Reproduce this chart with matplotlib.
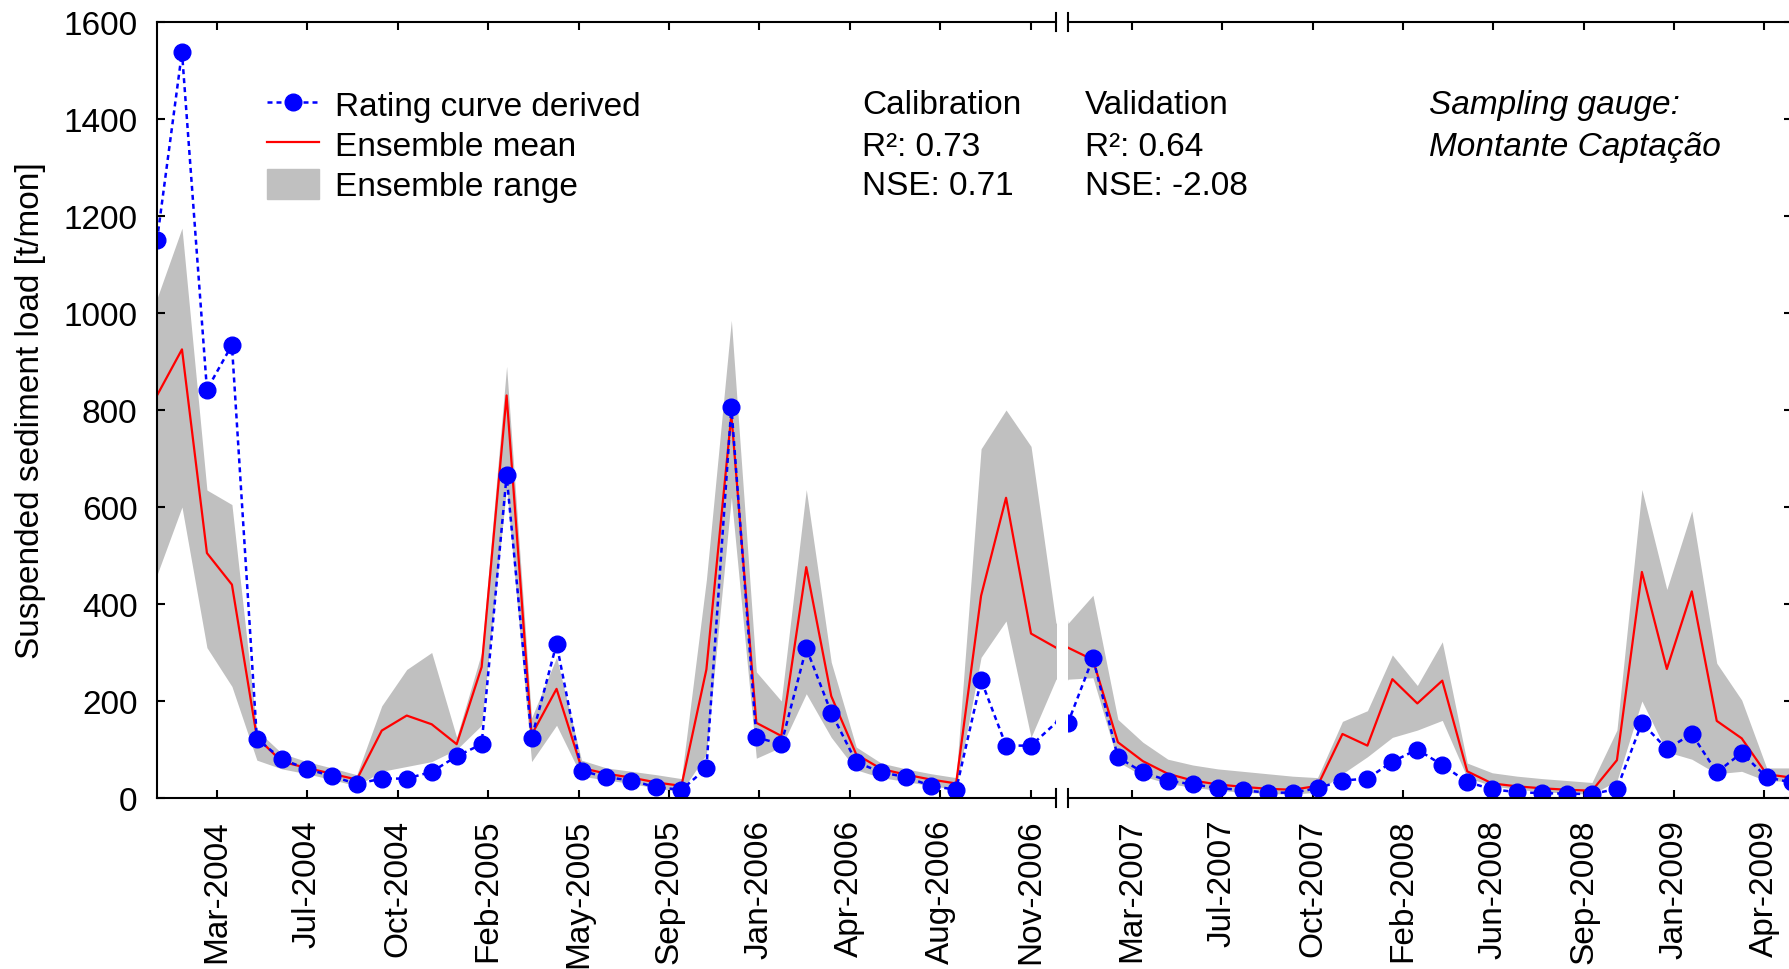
import numpy as np
import matplotlib
matplotlib.use("Agg")
import matplotlib.pyplot as plt
from matplotlib.lines import Line2D
from matplotlib.patches import Patch

plt.rcParams['font.family'] = ['Liberation Sans', 'DejaVu Sans']

# monthly suspended sediment load [t/mon], Jan-2004 .. Jun-2009
rating = [1150, 1538, 842, 934, 122, 80, 60, 45, 29, 40, 40, 54, 86, 111, 665, 123,
          318, 56, 43, 36, 22, 17, 61, 806, 125, 111, 309, 176, 74, 53, 43, 25,
          17, 243, 108, 108, 155, 289, 84, 53, 36, 28, 21, 16, 11, 11, 20, 36,
          40, 75, 100, 68, 33, 18, 12, 10, 9, 8, 19, 155, 101, 132, 53, 93, 43, 32]
ens_mean = [830, 925, 505, 440, 125, 75, 62, 50, 38, 139, 170, 152, 111, 270, 830, 130,
            225, 62, 50, 42, 32, 25, 265, 790, 155, 128, 476, 210, 90, 60, 48, 38,
            30, 417, 619, 339, 310, 285, 115, 76, 50, 36, 28, 23, 19, 17, 25, 132,
            108, 245, 195, 242, 55, 30, 24, 20, 17, 15, 78, 466, 266, 426, 159, 123, 49, 42]
ens_max = [1030, 1175, 635, 605, 140, 92, 75, 62, 48, 190, 265, 300, 125, 300, 890, 165,
           290, 78, 62, 55, 48, 40, 450, 985, 260, 200, 636, 280, 105, 72, 60, 50,
           42, 720, 800, 725, 360, 418, 162, 115, 80, 68, 60, 55, 50, 45, 42, 158,
           180, 295, 232, 322, 72, 52, 45, 40, 36, 32, 140, 636, 430, 592, 278, 202, 62, 62]
ens_min = [460, 600, 310, 230, 78, 60, 50, 38, 25, 55, 65, 75, 100, 150, 640, 75,
           150, 45, 37, 30, 20, 13, 90, 620, 82, 105, 215, 125, 58, 42, 34, 25,
           18, 290, 365, 125, 245, 248, 75, 45, 30, 22, 16, 12, 9, 8, 12, 50,
           85, 125, 140, 160, 42, 25, 18, 13, 10, 8, 35, 200, 95, 80, 50, 55, 35, 35]

calib_ticks = ['Mar-2004', 'Jul-2004', 'Oct-2004', 'Feb-2005', 'May-2005',
               'Sep-2005', 'Jan-2006', 'Apr-2006', 'Aug-2006', 'Nov-2006']
valid_ticks = ['Mar-2007', 'Jul-2007', 'Oct-2007', 'Feb-2008', 'Jun-2008',
               'Sep-2008', 'Jan-2009', 'Apr-2009']

calib_stats = ['Calibration', 'R\u00b2: 0.73', 'NSE: 0.71']
valid_stats = ['Validation', 'R\u00b2: 0.64', 'NSE: -2.08']
gauge_note = ['Sampling gauge:', 'Montante Captação']

n_calib = 36          # calibration period = first 36 months
tick_step = 3.62      # tick spacing in months

W, H = 1789, 970
fig = plt.figure(figsize=(W / 100, H / 100), dpi=100)


def rect(x0, x1, top=23, bottom=799):
    # axes rectangle given in pixel columns/rows
    return [x0 / W, 1 - bottom / H, (x1 - x0) / W, (bottom - top) / H]


ax1 = fig.add_axes(rect(157, 1056))
ax2 = fig.add_axes(rect(1068, 1791.6))

months = np.arange(len(rating))
blue_style = dict(color='blue', ls=(0, (2, 1.6)), lw=1.8, marker='o', ms=12)

for ax in (ax1, ax2):
    ax.fill_between(months, ens_min, ens_max, color='#c0c0c0', lw=0)
    ax.plot(months, ens_mean, color='red', lw=1.6)
    ax.set_ylim(0, 1600)
    ax.set_yticks(np.arange(0, 1601, 200))
    for s in ax.spines.values():
        s.set_linewidth(1.5)

ax1.plot(months, rating, markevery=list(range(n_calib)), **blue_style)
ax2.plot(months, rating, **blue_style)

ax1.set_xlim(0, n_calib)
ax2.set_xlim(n_calib, len(rating) - 1)

ax1.set_xticks(2.4 + tick_step * np.arange(len(calib_ticks)))
ax1.set_xticklabels(calib_ticks, rotation=90)
ax2.set_xticks(38.56 + tick_step * np.arange(len(valid_ticks)))
ax2.set_xticklabels(valid_ticks, rotation=90)

ax1.tick_params(direction='in', length=6, width=1.5, top=True, right=False,
                labelsize=24, pad=14)
ax2.tick_params(direction='in', length=6, width=1.5, top=True, right=True,
                left=False, labelleft=False, labelsize=24, pad=14)
ax1.tick_params(axis='x', pad=15)
ax2.tick_params(axis='x', pad=15)

ax1.spines['right'].set_visible(False)
ax2.spines['left'].set_visible(False)

# axis break marks
d = 0.0116
for ax, xb in ((ax1, 1), (ax2, 0)):
    for yb in (0, 1):
        ax.plot([xb, xb], [yb - d, yb + d], transform=ax.transAxes,
                color='k', lw=1.5, clip_on=False)

fig.text(31 / W, 1 - 411 / H, 'Suspended sediment load [t/mon]', rotation=90,
         ha='center', va='center', fontsize=24)

# goodness of fit and gauge name
for x0, lines in ((862, calib_stats), (1085, valid_stats)):
    for yb, s in zip((114, 156, 195), lines):
        fig.text(x0 / W, 1 - yb / H, s, fontsize=24, va='baseline')
for yb, s in zip((114, 156), gauge_note):
    fig.text(1429 / W, 1 - yb / H, s, fontsize=24, style='italic', va='baseline')

handles = [Line2D([], [], **blue_style),
           Line2D([], [], color='red', lw=1.6),
           Patch(color='#c0c0c0')]
labels = ['Rating curve derived', 'Ensemble mean', 'Ensemble range']
ax1.legend(handles, labels, loc='upper left', bbox_to_anchor=(267 / W, 1 - 90 / H),
           bbox_transform=fig.transFigure, frameon=False, fontsize=24,
           handlelength=1.55, handletextpad=0.5, handleheight=1.0,
           labelspacing=0.2, borderpad=0, borderaxespad=0, numpoints=1)

fig.savefig('out.png', dpi=100)
